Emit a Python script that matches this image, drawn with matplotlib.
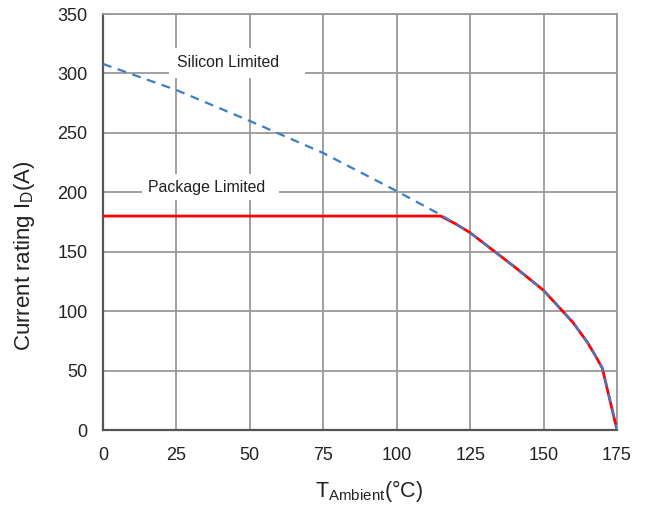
import matplotlib
matplotlib.use('Agg')
import matplotlib.pyplot as plt

plt.rcParams.update({
    'font.family': ['Liberation Sans', 'DejaVu Sans'],
    'mathtext.fontset': 'custom',
    'mathtext.rm': 'Liberation Sans',
    'mathtext.it': 'Liberation Sans:italic',
})

# silicon-limited derating curve (ambient temp in degC, current in A)
temp_si = [0, 25, 50, 75, 100, 115, 120, 125, 130, 135, 140, 145, 150, 155, 160, 165, 168, 170, 175]
curr_si = [308, 286, 260, 233, 201, 181, 173.5, 166, 156.5, 147, 137.5, 127.5, 117.5, 104, 90.5, 73.5, 61, 52, 0]

# package-limited curve: flat at 180 A until it meets the silicon curve
temp_pkg = [0, 115, 120, 125, 130, 135, 140, 145, 150, 155, 160, 165, 168, 170, 175]
curr_pkg = [180, 180, 173.5, 166, 156.5, 147, 137.5, 127.5, 117.5, 104, 90.5, 73.5, 61, 52, 0]

x_ticks = [0, 25, 50, 75, 100, 125, 150, 175]
y_ticks = [0, 50, 100, 150, 200, 250, 300, 350]

fig = plt.figure(figsize=(6.45, 5.11), dpi=100)
ax = fig.add_axes([0.1597, 0.1585, 0.7969, 0.8141])

ax.plot(temp_pkg, curr_pkg, color='#ff0000', lw=2.0, zorder=3)
ax.plot(temp_si, curr_si, color='#3a7dc8', lw=1.6, ls=(0, (4, 3)), zorder=4)

ax.set_xlim(0, 175)
ax.set_ylim(0, 350)
ax.set_xticks(x_ticks)
ax.set_yticks(y_ticks)
ax.grid(True, color='#999999', lw=1.3)
ax.set_axisbelow(True)
ax.tick_params(length=0, labelsize=13, colors='#222222')
ax.tick_params(axis='y', pad=11)
ax.tick_params(axis='x', pad=12)

for side in ('top', 'right'):
    ax.spines[side].set_color('#999999')
    ax.spines[side].set_linewidth(1.3)
for side in ('left', 'bottom'):
    ax.spines[side].set_color('#555555')
    ax.spines[side].set_linewidth(1.6)

ax.set_xlabel(r'T$_{\mathrm{Ambient}}$(°C)', fontsize=15.5, color='#222222')
ax.set_ylabel(r'Current rating I$_{\mathrm{D}}$(A)', fontsize=16, color='#222222')
ax.xaxis.set_label_coords(0.517, -0.115)
ax.yaxis.set_label_coords(-0.128, 0.418)

# labels sit on white patches that knock out the grid behind them
box = dict(boxstyle='square,pad=0.35', facecolor='white', edgecolor='none')
ax.text(25.2, 308.8, 'Silicon Limited    ', fontsize=11.4, ha='left', va='center',
        color='#222222', bbox=dict(boxstyle='square,pad=0.5', facecolor='white', edgecolor='none'),
        zorder=5)
ax.text(15.3, 204.4, 'Package Limited  ', fontsize=11.4, ha='left', va='center',
        color='#222222', bbox=box, zorder=5)

fig.savefig('out.png', dpi=100, facecolor='white')
